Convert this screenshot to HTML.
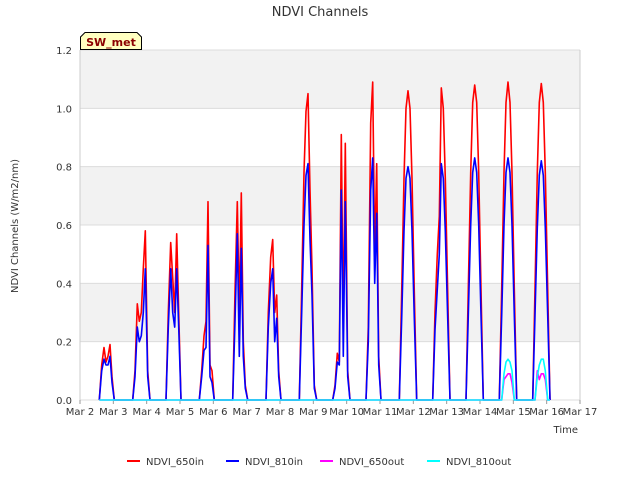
<!DOCTYPE html>
<html><head><meta charset="utf-8"><style>
body{margin:0;background:#fff;font-family:"Liberation Sans","DejaVu Sans",sans-serif}
svg text{font-family:"DejaVu Sans","Liberation Sans",sans-serif}
</style></head><body>
<svg id="chart" width="640" height="480" xmlns="http://www.w3.org/2000/svg">
<rect width="640" height="480" fill="#fff"/>
<text x="320" y="16" text-anchor="middle" font-size="13" fill="#333">NDVI Channels</text>
<g id="plot"></g>
<text transform="translate(18,226) rotate(-90)" text-anchor="middle" font-size="10" fill="#333">NDVI Channels (W/m2/nm)</text>
<text x="578" y="433" text-anchor="end" font-size="10" fill="#333">Time</text>
<g>
<path d="M80.5,49.5 L80.5,37 L85,32.5 L137,32.5 L141.5,37 L141.5,49.5 Z" fill="#ffffc0" stroke="#000"/>
<text x="111" y="46" text-anchor="middle" font-size="11" font-weight="bold" fill="#8b0000">SW_met</text>
</g>
<g id="legend"></g>
</svg>
<script>
const dayLabels=["Mar 2","Mar 3","Mar 4","Mar 5","Mar 6","Mar 7","Mar 8","Mar 9","Mar 10","Mar 11","Mar 12","Mar 13","Mar 14","Mar 15","Mar 16","Mar 17"];
const yTicks=[0.0,0.2,0.4,0.6,0.8,1.0,1.2];
const dayNoon=[0.84,1.84,2.84,3.84,4.84,5.84,6.84,7.84,8.84,9.84,10.84,11.84,12.84,13.84];
const hourOffsets=[-0.26,-0.19,-0.12,-0.06,0,0.06,0.12,0.19,0.26];
const red650in=[
[0,0.12,0.18,0.13,0.15,0.19,0.08,0,0],
[0,0.1,0.33,0.27,0.3,0.45,0.58,0.1,0],
[0,0.3,0.54,0.42,0.3,0.57,0.3,0,0],
[0,0.1,0.22,0.27,0.68,0.12,0.1,0,0],
[0,0.37,0.68,0.3,0.71,0.2,0.05,0,0],
[0,0.3,0.49,0.55,0.3,0.36,0.1,0,0],
[0,0.38,0.78,0.99,1.05,0.72,0.45,0.05,0],
[0,0.05,0.16,0.13,0.91,0.25,0.88,0.1,0],
[0,0.25,0.95,1.09,0.5,0.81,0.15,0,0],
[0,0.37,0.76,1.0,1.06,1.0,0.76,0.37,0],
[0,0.3,0.5,0.63,1.07,1.0,0.76,0.37,0],
[0,0.38,0.78,1.02,1.08,1.02,0.78,0.38,0],
[0,0.38,0.78,1.02,1.09,1.02,0.78,0.38,0],
[0,0.38,0.78,1.02,1.085,1.02,0.78,0.38,0]];
const blue810in=[
[0,0.1,0.14,0.12,0.12,0.15,0.06,0,0],
[0,0.08,0.25,0.2,0.22,0.3,0.45,0.08,0],
[0,0.25,0.45,0.3,0.25,0.45,0.25,0,0],
[0,0.08,0.17,0.18,0.53,0.08,0.06,0,0],
[0,0.27,0.57,0.15,0.52,0.15,0.04,0,0],
[0,0.25,0.4,0.45,0.2,0.28,0.08,0,0],
[0,0.3,0.6,0.77,0.81,0.55,0.36,0.04,0],
[0,0.04,0.13,0.12,0.72,0.15,0.68,0.08,0],
[0,0.2,0.72,0.83,0.4,0.64,0.12,0,0],
[0,0.28,0.58,0.76,0.8,0.76,0.58,0.28,0],
[0,0.24,0.38,0.5,0.81,0.76,0.58,0.28,0],
[0,0.29,0.6,0.78,0.83,0.78,0.6,0.29,0],
[0,0.29,0.6,0.78,0.83,0.78,0.6,0.29,0],
[0,0.29,0.59,0.77,0.82,0.77,0.59,0.29,0]];
const magenta650out=[
[0,0,0,0,0,0,0,0,0],[0,0,0,0,0,0,0,0,0],[0,0,0,0,0,0,0,0,0],[0,0,0,0,0,0,0,0,0],
[0,0,0,0,0,0,0,0,0],[0,0,0,0,0,0,0,0,0],[0,0,0,0,0,0,0,0,0],[0,0,0,0,0,0,0,0,0],
[0,0,0,0,0,0,0,0,0],[0,0,0,0,0,0,0,0,0],[0,0,0,0,0,0,0,0,0],[0,0,0,0,0,0,0,0,0],
[0,0,0.07,0.08,0.09,0.09,0.06,0,0],
[0,0,0.1,0.07,0.09,0.09,0.07,0,0]];
const cyan810out=[
[0,0,0,0,0,0,0,0,0],[0,0,0,0,0,0,0,0,0],[0,0,0,0,0,0,0,0,0],[0,0,0,0,0,0,0,0,0],
[0,0,0,0,0,0,0,0,0],[0,0,0,0,0,0,0,0,0],[0,0,0,0,0,0,0,0,0],[0,0,0,0,0,0,0,0,0],
[0,0,0,0,0,0,0,0,0],[0,0,0,0,0,0,0,0,0],[0,0,0,0,0,0,0,0,0],[0,0,0,0,0,0,0,0,0],
[0,0,0.09,0.13,0.14,0.13,0.1,0,0],
[0,0,0.08,0.12,0.14,0.14,0.1,0,0]];
const seriesNames=["NDVI_650in","NDVI_810in","NDVI_650out","NDVI_810out"];
const seriesColors=["#ff0000","#0000ff","#ff00ff","#00ffff"];

const NS="http://www.w3.org/2000/svg";
const L=80,R=580,T=50,B=400;
const xS=d=>L+(d/15)*(R-L);
const yS=v=>B-(v/1.2)*(B-T);
const plot=document.getElementById('plot');
function mk(tag,attrs,parent){const e=document.createElementNS(NS,tag);for(const k in attrs)e.setAttribute(k,attrs[k]);parent.appendChild(e);return e;}
mk('rect',{x:L,y:T,width:R-L,height:B-T,fill:'#fff'},plot);
for(let i=0;i<yTicks.length-1;i++){
  if(i%2===1){const r=mk('rect',{x:L,y:yS(yTicks[i+1]),width:R-L,height:yS(yTicks[i])-yS(yTicks[i+1]),fill:'#f2f2f2'},plot);
  
  }
}
yTicks.forEach(v=>{
  const g=mk('line',{x1:L,x2:R,y1:yS(v),y2:yS(v),stroke:'#dcdcdc','stroke-width':1},plot);
  
  
  const t=mk('text',{x:L-8,y:yS(v)+4,'text-anchor':'end','font-size':10,fill:'#333'},plot);
  t.textContent=v.toFixed(1);
  
  
});
mk('line',{x1:L,x2:L,y1:T,y2:B,stroke:'#ccc'},plot);
mk('line',{x1:R,x2:R,y1:T,y2:B,stroke:'#ccc'},plot);
dayLabels.forEach((lab,i)=>{
  mk('line',{x1:xS(i),x2:xS(i),y1:B,y2:B+4,stroke:'#999'},plot);
  const t=mk('text',{x:xS(i),y:B+15,'text-anchor':'middle','font-size':10,fill:'#333'},plot);
  t.textContent=lab;
  
  
});
[red650in,blue810in,magenta650out,cyan810out].forEach((s,si)=>{
  const pts=[];
  s.forEach((vals,k)=>vals.forEach((v,j)=>pts.push(xS(dayNoon[k]+hourOffsets[j]).toFixed(1)+','+yS(v).toFixed(1))));
  const p=mk('polyline',{points:pts.join(' '),fill:'none',stroke:seriesColors[si],'stroke-width':1.6,'stroke-linejoin':'round'},plot);
  
  
});
const leg=document.getElementById('legend');
const lx=[127,226,320,427];
seriesNames.forEach((n,i)=>{
  const ln=mk('line',{x1:lx[i],x2:lx[i]+13,y1:461,y2:461,stroke:seriesColors[i],'stroke-width':2},leg);
  
  
  const t=mk('text',{x:lx[i]+19,y:465,'font-size':10,fill:'#333'},leg);
  t.textContent=n;
  
  
});
</script>
</body></html>
